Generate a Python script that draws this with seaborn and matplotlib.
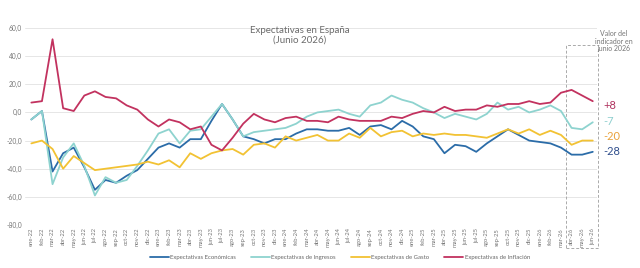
import numpy as np
import pandas as pd
import matplotlib
matplotlib.use("Agg")
import matplotlib.pyplot as plt
import seaborn as sns
from matplotlib.patches import Rectangle

meses = ["ene", "feb", "mar", "abr", "may", "jun", "jul", "ago", "sep", "oct", "nov", "dic"]
labels = [f"{m}-{y}" for y in range(22, 27) for m in meses][:54]

economicas = [-5, 1, -42, -29, -25, -39, -55, -48, -50, -45, -41, -33,
              -25, -22, -25, -19, -19, -6, 6, -5, -17, -19, -22, -19,
              -19, -15, -12, -12, -13, -13, -11, -16, -10, -9, -12, -6,
              -10, -17, -19, -29, -23, -24, -28, -22, -17, -12, -16, -20,
              -21, -22, -25, -30, -30, -28]
ingresos = [-5, 1, -51, -32, -22, -38, -59, -46, -50, -48, -38, -27,
            -15, -12, -22, -13, -12, -3, 6, -5, -17, -14, -13, -12,
            -11, -8, -3, 0, 1, 2, -1, -3, 5, 7, 12, 9,
            7, 3, 0, -4, -1, -3, -5, -1, 7, 2, 4, 0,
            2, 5, 1, -11, -12, -7]
gasto = [-22, -20, -26, -40, -31, -36, -41, -40, -39, -38, -37, -35,
         -37, -34, -39, -29, -33, -29, -27, -26, -30, -23, -22, -25,
         -17, -20, -18, -16, -20, -20, -15, -18, -11, -17, -14, -13,
         -17, -15, -16, -15, -16, -16, -17, -18, -15, -12, -15, -12,
         -16, -13, -16, -23, -20, -20]
inflacion = [7, 8, 52, 3, 1, 12, 15, 11, 10, 5, 2, -5,
             -10, -5, -7, -12, -10, -23, -27, -18, -8, -1, -5, -7,
             -4, -3, -6, -6, -7, -3, -5, -6, -6, -6, -3, -4,
             -1, 1, 0, 4, 1, 2, 2, 5, 4, 6, 6, 8,
             6, 7, 14, 16, 12, 8]

series_names = ["Expectativas Económicas", "Expectativas de Ingresos",
                "Expectativas de Gasto", "Expectativas de Inflación"]
colors = ["#2B6CA8", "#8ED3CF", "#F2C233", "#C2325F"]
final_labels = ["-28", "-7", "-20", "+8"]
final_colors = ["#2F4E8C", "#8ECFCF", "#E9A23B", "#B0335F"]
final_pos = [-28, -6.5, -17, 5]

rows = []
for name, vals in zip(series_names, [economicas, ingresos, gasto, inflacion]):
    for i, v in enumerate(vals):
        rows.append({"idx": i, "valor": v, "serie": name})
df = pd.DataFrame(rows)

sns.set_theme(style="white")
plt.rcParams["font.family"] = ["Lato", "DejaVu Sans"]

fig = plt.figure(figsize=(6.4, 2.68), dpi=100)
ax = fig.add_axes([25 / 640, 1 - 225 / 268, (597 - 25) / 640, (225 - 28) / 268])

sns.lineplot(data=df, x="idx", y="valor", hue="serie", palette=dict(zip(series_names, colors)),
             hue_order=series_names, linewidth=1.3, ax=ax, legend=True)

ax.set_xlim(-0.6, 53.4)
ax.set_ylim(-80, 60)
ax.set_yticks(np.arange(-80, 61, 20))
ax.set_yticklabels([f"{v:.1f}".replace(".", ",") for v in np.arange(-80, 61, 20)],
                   fontsize=4.8, color="#777777")
ax.set_xticks(range(54))
ax.set_xticklabels(labels, rotation=90, fontsize=4.2, color="#777777")
ax.tick_params(axis="both", length=0, pad=2)
ax.grid(axis="y", color="#E6E6E6", linewidth=0.7)
ax.grid(axis="x", visible=False)
for s in ax.spines.values():
    s.set_visible(False)
ax.set_xlabel("")
ax.set_ylabel("")

handles, labs = ax.get_legend_handles_labels()
ax.legend_.remove()
fig.legend(handles, labs, loc="center", bbox_to_anchor=(340 / 640, 1 - 257 / 268), ncol=4,
           frameon=False, fontsize=4.3, handlelength=3.2, handletextpad=0.2, columnspacing=2.5,
           labelcolor="#666666")

fig.text(300 / 640, 1 - 35 / 268, "Expectativas en España\n(Junio 2026)", ha="center", va="center",
         fontsize=7, color="#6B6B6B", linespacing=1.1)

# dashed box around last three months
rect = Rectangle((50.45, -96.5), 3.0, 48.2 + 96.5, fill=False, linestyle=(0, (3, 2)),
                 edgecolor="#AAAAAA", linewidth=0.7, clip_on=False)
ax.add_patch(rect)
fig.text(614 / 640, 1 - 41 / 268, "Valor del\nindicador en\njunio 2026", ha="center", va="center",
         fontsize=5, color="#777777", linespacing=1.15)

for lab, col, pos in zip(final_labels, final_colors, final_pos):
    ax.text(54.0, pos, lab, ha="left", va="center", fontsize=8, color=col, clip_on=False)

fig.savefig("out.png", dpi=100)
